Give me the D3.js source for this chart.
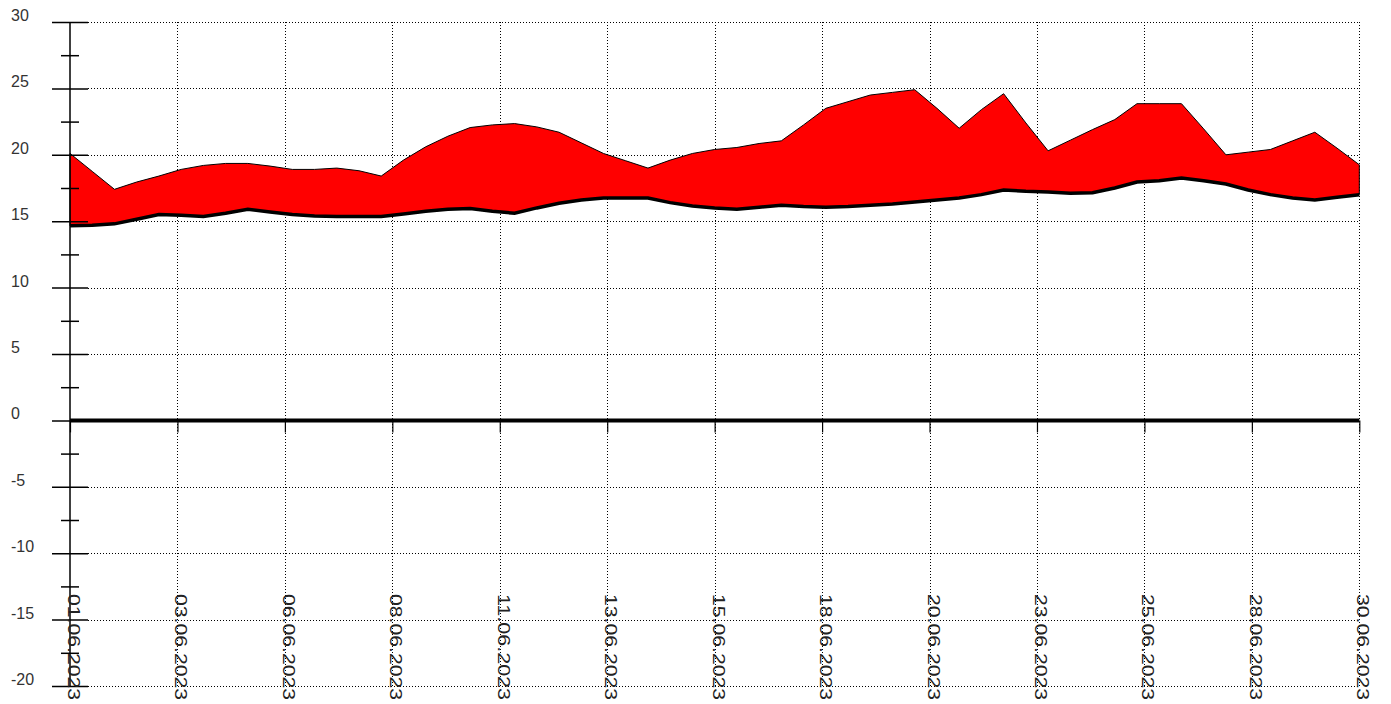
<!DOCTYPE html>
<html>
<head>
<meta charset="utf-8">
<script src="https://cdn.jsdelivr.net/npm/d3@7"></script>
<style>
  body { margin: 0; background: #fff; }
  svg { display: block; font-family: Arial, "Liberation Sans", sans-serif; }
</style>
</head>
<body>
<div id="chart"></div>
<script>
// day of month, half-day steps
const days = [1, 1.5, 2, 2.5, 3, 3.5, 4, 4.5, 5, 5.5, 6, 6.5, 7, 7.5, 8, 8.5, 9, 9.5, 10, 10.5,
  11, 11.5, 12, 12.5, 13, 13.5, 14, 14.5, 15, 15.5, 16, 16.5, 17, 17.5, 18, 18.5, 19, 19.5, 20, 20.5,
  21, 21.5, 22, 22.5, 23, 23.5, 24, 24.5, 25, 25.5, 26, 26.5, 27, 27.5, 28, 28.5, 29, 29.5, 30];

const upperValues = [20.1, 18.75, 17.4, 17.95, 18.4, 18.9, 19.2, 19.35, 19.35, 19.15, 18.9, 18.9, 19.0, 18.8, 18.4, 19.6, 20.6, 21.4, 22.05, 22.25,
  22.35, 22.1, 21.7, 20.9, 20.1, 19.55, 19.0, 19.6, 20.1, 20.4, 20.55, 20.85, 21.05, 22.25, 23.5, 24.0, 24.5, 24.7, 24.9, 23.5,
  22.0, 23.4, 24.6, 22.4, 20.3, 21.1, 21.9, 22.65, 23.85, 23.85, 23.85, 21.95, 20.0, 20.2, 20.4, 21.05, 21.7, 20.5, 19.25];

const lowerValues = [14.65, 14.7, 14.8, 15.15, 15.5, 15.45, 15.35, 15.6, 15.9, 15.7, 15.5, 15.4, 15.35, 15.35, 15.35, 15.55, 15.75, 15.9, 15.95, 15.75,
  15.6, 16.0, 16.35, 16.6, 16.75, 16.75, 16.75, 16.4, 16.15, 16.0, 15.9, 16.05, 16.2, 16.1, 16.05, 16.1, 16.2, 16.3, 16.45, 16.6,
  16.75, 17.0, 17.35, 17.25, 17.2, 17.1, 17.15, 17.5, 17.95, 18.05, 18.25, 18.05, 17.8, 17.35, 17.0, 16.75, 16.6, 16.8, 17.0];

const xTickLabels = ["01.06.2023", "03.06.2023", "06.06.2023", "08.06.2023", "11.06.2023", "13.06.2023", "15.06.2023",
  "18.06.2023", "20.06.2023", "23.06.2023", "25.06.2023", "28.06.2023", "30.06.2023"];

const yTicks = [-20, -15, -10, -5, 0, 5, 10, 15, 20, 25, 30];
const yTickLabels = ["-20", "-15", "-10", "-5", "0", "5", "10", "15", "20", "25", "30"];
const yMinorTicks = [-17.5, -12.5, -7.5, -2.5, 2.5, 7.5, 12.5, 17.5, 22.5, 27.5];

const width = 1391, height = 704;
const plot = { left: 70, right: 1359.3, top: 22, bottom: 686 };

const data = days.map((d, i) => ({ day: d, hi: upperValues[i], lo: lowerValues[i] }));

const x = d3.scaleLinear()
  .domain([days[0], days[days.length - 1]])
  .range([plot.left, plot.right]);

const y = d3.scaleLinear()
  .domain([yTicks[0], yTicks[yTicks.length - 1]])
  .range([plot.bottom, plot.top]);

// x labels are spread evenly over the month
const xTickValues = xTickLabels.map((_, i) => x.domain()[0] + i * (x.domain()[1] - x.domain()[0]) / (xTickLabels.length - 1));

const svg = d3.select("#chart")
  .append("svg")
    .attr("width", width)
    .attr("height", height);

// horizontal dotted grid
svg.append("g")
  .selectAll("line")
  .data(yTicks.filter(v => v !== 0))
  .join("line")
    .attr("x1", 88)
    .attr("x2", plot.right)
    .attr("y1", d => Math.round(y(d)) + 0.5)
    .attr("y2", d => Math.round(y(d)) + 0.5)
    .attr("stroke", "#000")
    .attr("stroke-width", 1)
    .attr("stroke-dasharray", "1,2");

// vertical dotted grid
svg.append("g")
  .selectAll("line")
  .data(xTickValues.slice(1))
  .join("line")
    .attr("x1", d => Math.round(x(d)) + 0.5)
    .attr("x2", d => Math.round(x(d)) + 0.5)
    .attr("y1", plot.top)
    .attr("y2", plot.bottom)
    .attr("stroke", "#000")
    .attr("stroke-width", 1)
    .attr("stroke-dasharray", "1,2");

// band between low and high
svg.append("path")
  .datum(data)
  .attr("fill", "#ff0000")
  .attr("stroke", "#000")
  .attr("stroke-width", 1)
  .attr("d", d3.area()
    .x(d => x(d.day))
    .y0(d => y(d.lo))
    .y1(d => y(d.hi)));

svg.append("path")
  .datum(data)
  .attr("fill", "none")
  .attr("stroke", "#000")
  .attr("stroke-width", 3.5)
  .attr("d", d3.line()
    .x(d => x(d.day))
    .y(d => y(d.lo)));

// zero line
svg.append("line")
  .attr("x1", plot.left)
  .attr("x2", plot.right)
  .attr("y1", y(0))
  .attr("y2", y(0))
  .attr("stroke", "#000")
  .attr("stroke-width", 4);

// x ticks hang from the zero line
svg.append("g")
  .attr("transform", `translate(0,${y(0)})`)
  .call(d3.axisBottom(x).tickValues(xTickValues).tickSize(12).tickFormat(""))
  .call(g => g.select(".domain").remove())
  .call(g => g.selectAll("line").attr("stroke-width", 1.2));

// y axis
svg.append("line")
  .attr("x1", plot.left)
  .attr("x2", plot.left)
  .attr("y1", plot.top)
  .attr("y2", plot.bottom)
  .attr("stroke", "#000")
  .attr("stroke-width", 1.5);

svg.append("g")
  .attr("transform", "translate(88,0)")
  .call(d3.axisLeft(y).tickValues(yTicks).tickSize(36).tickFormat((d, i) => yTickLabels[i]))
  .call(g => g.select(".domain").remove())
  .call(g => g.selectAll("line").attr("stroke-width", 1.5))
  .call(g => g.selectAll("text")
    .attr("x", -77)
    .attr("dy", "-0.1em")
    .attr("text-anchor", "start")
    .style("font-size", "16px")
    .style("font-family", "Arial, 'Liberation Sans', sans-serif")
    .attr("fill", "#333"));

svg.append("g")
  .attr("transform", "translate(79,0)")
  .call(d3.axisLeft(y).tickValues(yMinorTicks).tickSize(18).tickFormat(""))
  .call(g => g.select(".domain").remove())
  .call(g => g.selectAll("line").attr("stroke-width", 1.5));

// rotated date labels at the bottom
svg.append("g")
  .selectAll("text")
  .data(xTickValues)
  .join("text")
    .attr("transform", d => `translate(${x(d) - 2},594) rotate(90)`)
    .attr("textLength", 106)
    .attr("lengthAdjust", "spacingAndGlyphs")
    .style("font-size", "16px")
    .attr("fill", "#222")
    .text((d, i) => xTickLabels[i]);
</script>
</body>
</html>
